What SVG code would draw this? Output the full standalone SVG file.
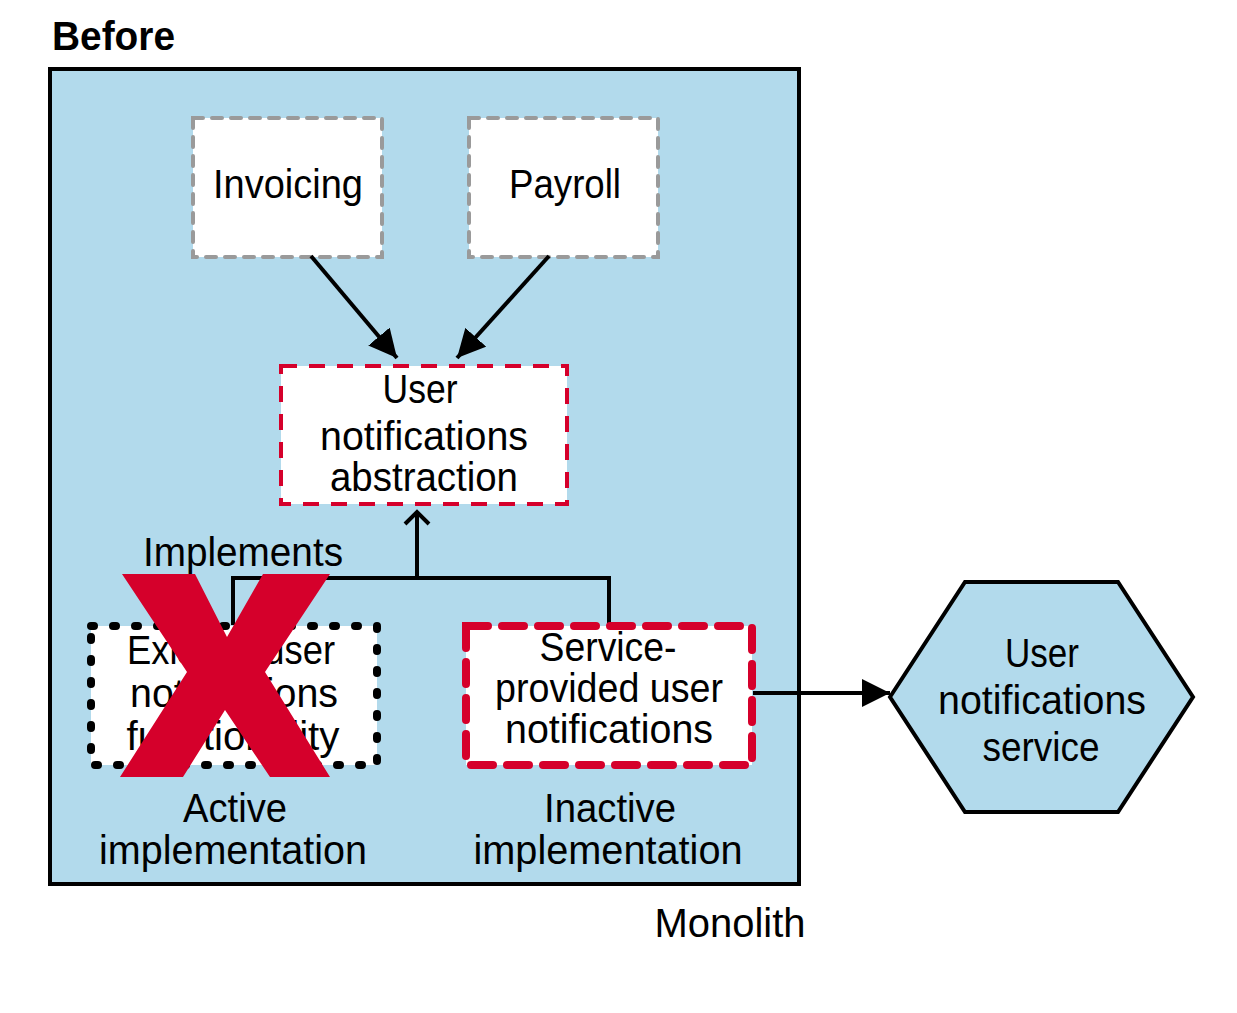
<svg xmlns="http://www.w3.org/2000/svg" width="1237" height="1013" viewBox="0 0 1237 1013">
<defs>
<style>
.t{font-family:"Liberation Sans",Arial,sans-serif;font-size:40px;fill:#000;text-anchor:middle}
.gray{fill:#fff;stroke:#9a9a9a;stroke-width:4;stroke-dasharray:10 9;stroke-linecap:round}
.reddash{fill:#fff;stroke:#d5002b;stroke-width:4;stroke-dasharray:16 12}
.redthick{fill:#fff;stroke:#d5002b;stroke-width:8;stroke-dasharray:22 14;stroke-linecap:round}
.dots{fill:#fff;stroke:#000;stroke-width:8;stroke-dasharray:3 19;stroke-linecap:round}
.ln{fill:none;stroke:#000;stroke-width:4}
</style>
<marker id="ah" viewBox="0 0 10 10" refX="10" refY="5" markerWidth="7" markerHeight="7" markerUnits="strokeWidth" orient="auto">
<path d="M0,0 L10,5 L0,10 z" fill="#000"/>
</marker>
</defs>
<rect width="1237" height="1013" fill="#fff"/>
<text x="52" y="50" style="font-family:'Liberation Sans',Arial,sans-serif;font-weight:bold;font-size:40px" textLength="123" lengthAdjust="spacingAndGlyphs">Before</text>
<g id="monolith">
<rect x="50" y="69" width="749" height="815" fill="#b2daec" stroke="#000" stroke-width="4"/>
<text class="t" x="730" y="937" textLength="151" lengthAdjust="spacingAndGlyphs">Monolith</text>
</g>
<g id="invoicing">
<rect class="gray" x="193" y="118" width="189" height="139"/>
<text class="t" x="288" y="198" textLength="150" lengthAdjust="spacingAndGlyphs">Invoicing</text>
</g>
<g id="payroll">
<rect class="gray" x="469" y="118" width="189" height="139"/>
<text class="t" x="565" y="198" textLength="112" lengthAdjust="spacingAndGlyphs">Payroll</text>
</g>
<g id="abstraction">
<rect class="reddash" x="281" y="366" width="286" height="138"/>
<text class="t" x="420" y="403" textLength="75" lengthAdjust="spacingAndGlyphs">User</text>
<text class="t" x="424" y="450" textLength="208" lengthAdjust="spacingAndGlyphs">notifications</text>
<text class="t" x="424" y="491" textLength="188" lengthAdjust="spacingAndGlyphs">abstraction</text>
</g>
<g id="connectors">
<line class="ln" x1="311" y1="256" x2="397" y2="358" marker-end="url(#ah)"/>
<line class="ln" x1="549" y1="256" x2="457" y2="358" marker-end="url(#ah)"/>
<polyline class="ln" points="233,625 233,578 609,578 609,625"/>
<line class="ln" x1="417" y1="578" x2="417" y2="512"/>
<polyline class="ln" points="405,524 417,512 429,524"/>
<line class="ln" x1="753" y1="693" x2="890" y2="693" marker-end="url(#ah)"/>
<text class="t" x="243" y="566" textLength="200" lengthAdjust="spacingAndGlyphs">Implements</text>
</g>
<g id="existing">
<rect class="dots" x="91" y="626" width="286" height="139"/>
<text class="t" x="231" y="664" textLength="208" lengthAdjust="spacingAndGlyphs">Existing user</text>
<text class="t" x="234" y="707" textLength="208" lengthAdjust="spacingAndGlyphs">notifications</text>
<text class="t" x="233" y="750" textLength="213" lengthAdjust="spacingAndGlyphs">functionality</text>
<polygon fill="#d5002b" points="122,574 195,574 227,637 263,574 330,574 265,672 330,777 270,777 225,710 183,777 120,777 187,672"/>
<text class="t" x="235" y="822" textLength="104" lengthAdjust="spacingAndGlyphs">Active</text>
<text class="t" x="233" y="864" textLength="268" lengthAdjust="spacingAndGlyphs">implementation</text>
</g>
<g id="service-provided">
<rect class="redthick" x="466" y="626" width="286" height="139"/>
<text class="t" x="608" y="661" textLength="137" lengthAdjust="spacingAndGlyphs">Service-</text>
<text class="t" x="609" y="702" textLength="228" lengthAdjust="spacingAndGlyphs">provided user</text>
<text class="t" x="609" y="743" textLength="208" lengthAdjust="spacingAndGlyphs">notifications</text>
<text class="t" x="610" y="822" textLength="132" lengthAdjust="spacingAndGlyphs">Inactive</text>
<text class="t" x="608" y="864" textLength="269" lengthAdjust="spacingAndGlyphs">implementation</text>
</g>
<g id="service">
<polygon points="890,697 965,582 1118,582 1193,697 1118,812 965,812" fill="#b2daec" stroke="#000" stroke-width="4"/>
<text class="t" x="1042" y="667" textLength="74" lengthAdjust="spacingAndGlyphs">User</text>
<text class="t" x="1042" y="714" textLength="208" lengthAdjust="spacingAndGlyphs">notifications</text>
<text class="t" x="1041" y="761" textLength="117" lengthAdjust="spacingAndGlyphs">service</text>
</g>
</svg>
